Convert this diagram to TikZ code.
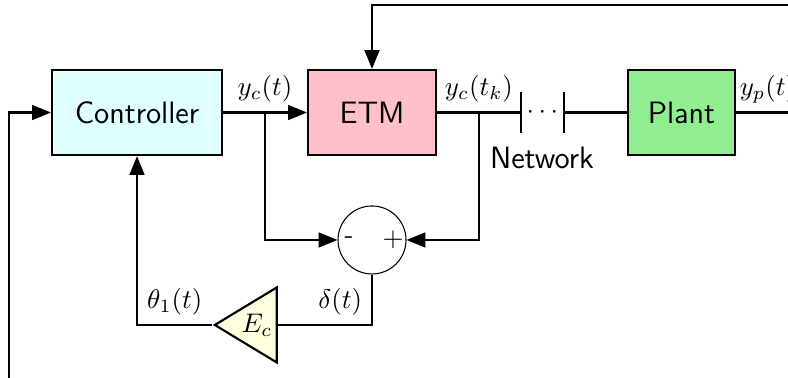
\documentclass[tikz,border=0pt]{standalone}
\usepackage{tikz}
\usetikzlibrary{arrows.meta, calc, positioning, shapes.geometric}
\definecolor{ctrlcyan}{RGB}{224, 255, 255}
\definecolor{etmpink}{RGB}{255, 192, 203}
\definecolor{plantgreen}{RGB}{144, 238, 144}
\definecolor{gainyellow}{RGB}{255, 255, 224}

\begin{document}
\begin{tikzpicture}[
	blk/.style={draw, line width=0.8pt, minimum height=1.111cm,
		font=\sffamily\fontsize{11.5}{14}\selectfont},
	sumc/.style={draw, circle, thin, minimum size=0.889cm, inner sep=0pt},
	gain/.style={draw, line width=0.8pt, fill=gainyellow, isosceles triangle,
		isosceles triangle stretches, shape border rotate=180,
		minimum width=0.98cm, minimum height=0.81cm, inner sep=0pt},
	arr/.style={-{Triangle[length=7pt, width=5.5pt]}},
	line width=0.8pt
	]
	\useasboundingbox (0,0) rectangle (10.301,-4.941);
	\node[blk, fill=ctrlcyan, minimum width=2.222cm] (ctrl) at (1.791,-1.471) {Controller};
	\node[blk, fill=etmpink, minimum width=1.673cm] (etm) at (4.863,-1.471) {ETM};
	\node[blk, fill=plantgreen, minimum width=1.399cm] (plant) at (8.908,-1.471) {Plant};
	\node[sumc] (sum) at (4.863,-3.137) {};
	\node[font=\sffamily] (minus) at ([xshift=-0.30cm]sum.center) {-};
	\node[font=\sffamily] (plus) at ([xshift=0.275cm]sum.center) {+};
	\node[gain, anchor=apex] (gainEc) at (2.771,-4.248) {$E_c$};
	\node (dots) at (7.09,-1.471) {$\cdots$};
	\node[font=\sffamily\fontsize{11.5}{14}\selectfont] (net) at (7.085,-2.065) {Network};
	% branch points and free ends
	\coordinate (bc) at (3.464,-1.471);
	\coordinate (bk) at (6.261,-1.471);
	\coordinate (n1) at (6.810,-1.471);
	\coordinate (n2) at (7.373,-1.471);
	\coordinate (topR) at (10.6,-0.065);
	\coordinate (outR) at (10.6,-1.471);
	\coordinate (inL) at (0.118,-5.2);
	\draw ([yshift=0.268cm]n1) -- ([yshift=-0.268cm]n1);
	\draw ([yshift=0.268cm]n2) -- ([yshift=-0.268cm]n2);
	\draw[arr] (ctrl) -- (etm);
	\draw (etm) -- (n1);
	\draw (n2) -- (plant);
	\draw (plant) -- (outR);
	\draw[arr] (topR) -| (etm);
	\draw[arr] (inL) |- (ctrl);
	\draw[arr] (bc) |- (sum);
	\draw[arr] (bk) |- (sum);
	\draw (sum.south) |- (gainEc.east);
	\draw[arr] (gainEc.apex) -| (ctrl.south);
	\node[above] (lyc) at (bc) {$y_c(t)$};
	\node[above] (lyk) at (bk) {$y_c(t_k)$};
	\node[above right, inner sep=1pt] (lyp) at ([yshift=2pt]plant.east) {$y_p(t)$};
	\node[above right] (lth) at (ctrl.south |- gainEc.apex) {$\theta_1(t)$};
	\node[above left] (ldl) at (sum.south |- gainEc.east) {$\delta(t)$};
\end{tikzpicture}
\end{document}
